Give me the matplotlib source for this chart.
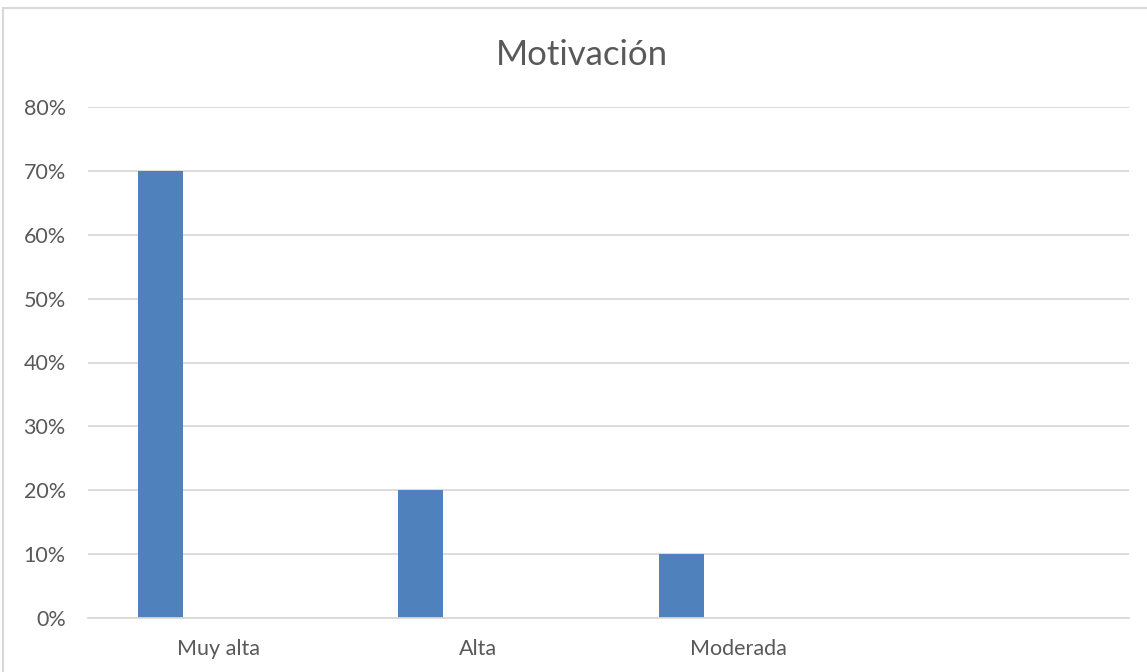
import matplotlib.pyplot as plt
from matplotlib.patches import Rectangle
from matplotlib.ticker import PercentFormatter

categories = ["Muy alta", "Alta", "Moderada", ""]
values = [0.70, 0.20, 0.10, 0.0]
yticks = [0, 0.1, 0.2, 0.3, 0.4, 0.5, 0.6, 0.7, 0.8]

W, H = 1147, 672
text_color = "#595959"
grid_color = "#d9d9d9"
bar_color = "#4f81bd"

plt.rcParams['font.family'] = ['Lato', 'DejaVu Sans']

fig = plt.figure(figsize=(W / 100, H / 100), dpi=100)
ax = fig.add_axes([88 / W, (H - 618) / H, (1129 - 88) / W, (618 - 107) / H])

# outer chart frame (runs past the right and bottom edges)
fig.patches.append(Rectangle((3 / W, -0.1), 1.2, (H - 8) / H + 0.1,
                             transform=fig.transFigure, fill=False,
                             edgecolor=grid_color, linewidth=1.5))

x = list(range(len(categories)))
bar_offset = -0.221
bar_width = 0.173
ax.bar([i + bar_offset for i in x], values, width=bar_width, color=bar_color)

ax.set_xlim(-0.5, len(categories) - 0.5)
ax.set_ylim(0, 0.8)
ax.set_xticks(x)
ax.set_xticklabels(categories)
ax.set_yticks(yticks)
ax.yaxis.set_major_formatter(PercentFormatter(1.0, decimals=0))

ax.grid(axis='y', color=grid_color, linewidth=1.3)
ax.set_axisbelow(True)
for side in ['top', 'right', 'left']:
    ax.spines[side].set_visible(False)
ax.spines['bottom'].set_color(grid_color)
ax.spines['bottom'].set_linewidth(1.3)

ax.tick_params(axis='both', length=0, colors=text_color, labelsize=15.5)
ax.tick_params(axis='y', pad=16)
ax.tick_params(axis='x', pad=15)

fig.text(582 / W, (H - 55) / H, "Motivación", ha='center', va='center',
         fontsize=25, color=text_color)

fig.savefig("out.png", dpi=100)
